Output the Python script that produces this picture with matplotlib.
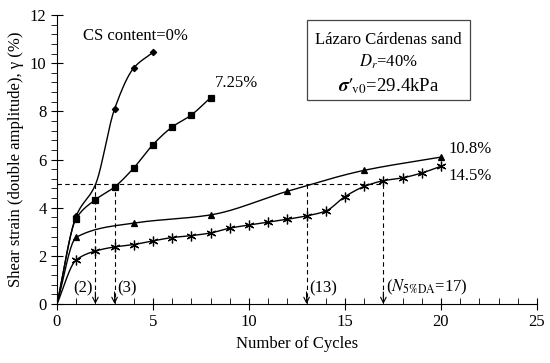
import numpy as np
import matplotlib
matplotlib.use("Agg")
import matplotlib.pyplot as plt
from matplotlib.patches import Rectangle
from matplotlib.ticker import MultipleLocator

plt.rcParams["font.family"] = "Liberation Serif"
plt.rcParams["mathtext.fontset"] = "stix"

# curves start at the origin; markers only where measured
cyc_0 = [0, 1, 2, 3, 4, 5]
gam_0 = [0, 3.65, 4.95, 8.1, 9.8, 10.45]
mk_0 = [1, 3, 4, 5]

cyc_725 = [0, 1, 2, 3, 4, 5, 6, 7, 8]
gam_725 = [0, 3.55, 4.33, 4.86, 5.65, 6.62, 7.35, 7.85, 8.57]

cyc_108 = [0, 1, 4, 8, 12, 16, 20]
gam_108 = [0, 2.77, 3.36, 3.7, 4.68, 5.55, 6.1]

cyc_145 = [0, 1, 2, 3, 4, 5, 6, 7, 8, 9, 10, 11, 12, 13, 14, 15, 16, 17, 18, 19, 20]
gam_145 = [0, 1.83, 2.2, 2.37, 2.47, 2.62, 2.76, 2.84, 2.95, 3.15, 3.28, 3.4,
           3.52, 3.66, 3.86, 4.46, 4.88, 5.12, 5.24, 5.44, 5.72]

n_5pct = [2, 3, 13, 17]
n_labels = ["(2)", "(3)", "(13)", r"($N_{\rm 5\%DA}$=17)"]


def pchip(x, y, n=200):
    x = np.asarray(x, float)
    y = np.asarray(y, float)
    h = np.diff(x)
    d = np.diff(y) / h
    m = np.zeros_like(y)
    for k in range(1, len(x) - 1):
        if d[k - 1] * d[k] > 0:
            w1 = 2 * h[k] + h[k - 1]
            w2 = h[k] + 2 * h[k - 1]
            m[k] = (w1 + w2) / (w1 / d[k - 1] + w2 / d[k])
    m[0] = d[0]
    m[-1] = d[-1]
    xs = np.linspace(x[0], x[-1], n)
    i = np.clip(np.searchsorted(x, xs) - 1, 0, len(x) - 2)
    t = (xs - x[i]) / h[i]
    h00 = 2 * t**3 - 3 * t**2 + 1
    h10 = t**3 - 2 * t**2 + t
    h01 = -2 * t**3 + 3 * t**2
    h11 = t**3 - t**2
    ys = h00 * y[i] + h10 * h[i] * m[i] + h01 * y[i + 1] + h11 * h[i] * m[i + 1]
    return xs, ys


fs = 12
fig = plt.figure(figsize=(5.5, 3.63), dpi=100)
ax = fig.add_axes([0.1036, 0.1625, 0.8727, 0.7962])

for cx, gy, mk, ms, idx in [
    (cyc_0, gam_0, "D", 3.2, mk_0),
    (cyc_725, gam_725, "s", 3.8, list(range(1, len(cyc_725)))),
    (cyc_108, gam_108, "^", 5, list(range(1, len(cyc_108)))),
    (cyc_145, gam_145, (6, 2, 0), 7, list(range(1, len(cyc_145)))),
]:
    xs, ys = pchip(cx, gy)
    ax.plot(xs, ys, color="black", lw=1.0)
    ax.plot(np.array(cx)[idx], np.array(gy)[idx], ls="none", marker=mk,
            ms=ms, color="black", mew=0.9)

# 5% DA criterion
ax.plot([0, max(n_5pct)], [5, 5], color="black", lw=0.8, ls=(0, (4, 3)))
for n, lab in zip(n_5pct, n_labels):
    ax.plot([n, n], [5, 0.3], color="black", lw=0.8, ls=(0, (4, 3)))
    ax.annotate("", xy=(n, 0), xytext=(n, 0.5),
                arrowprops=dict(arrowstyle="->", lw=0.8, color="black",
                                shrinkA=0, shrinkB=0))
    if n == 2:
        ax.text(n - 0.12, 0.3, lab, ha="right", va="bottom", fontsize=fs)
    else:
        ax.text(n + 0.12, 0.3, lab, ha="left", va="bottom", fontsize=fs)

ax.text(1.35, 10.95, "CS content=0%", fontsize=fs)
ax.text(8.2, 9.0, "7.25%", fontsize=fs)
ax.text(20.4, 6.25, "10.8%", fontsize=fs)
ax.text(20.4, 5.15, "14.5%", fontsize=fs)

# info box
ax.add_patch(Rectangle((0.521, 0.706), 0.339, 0.277, transform=ax.transAxes,
                       fill=False, ec="#444444", lw=0.9))
ax.text(0.69, 0.913, "L\u00e1zaro C\u00e1rdenas sand", transform=ax.transAxes,
        ha="center", va="center", fontsize=fs)
ax.text(0.69, 0.837, "$D_r$=40%", transform=ax.transAxes,
        ha="center", va="center", fontsize=fs)
ax.text(0.69, 0.755, "$\\boldsymbol{\\sigma}\\mathbf{\\prime}_{\\!\\rm v0}$=29.4kPa",
        transform=ax.transAxes, ha="center", va="center", fontsize=13.5)

ax.set_xlim(0, 25)
ax.set_ylim(0, 12)
ax.xaxis.set_major_locator(MultipleLocator(5))
ax.xaxis.set_minor_locator(MultipleLocator(1))
ax.yaxis.set_major_locator(MultipleLocator(2))
ax.yaxis.set_minor_locator(MultipleLocator(0.4))
ax.tick_params(axis="x", which="major", direction="inout", length=8, labelsize=fs)
ax.tick_params(axis="x", which="minor", direction="in", length=4)
ax.tick_params(axis="y", which="major", direction="inout", length=8, labelsize=fs)
ax.tick_params(axis="y", which="minor", direction="out", length=4)
for s in ["top", "right"]:
    ax.spines[s].set_visible(False)

ax.set_xlabel("Number of Cycles", fontsize=fs)
ax.set_ylabel("Shear strain (double amplitude), \u03b3 (%)", fontsize=fs)

fig.savefig("out.png", dpi=100)
